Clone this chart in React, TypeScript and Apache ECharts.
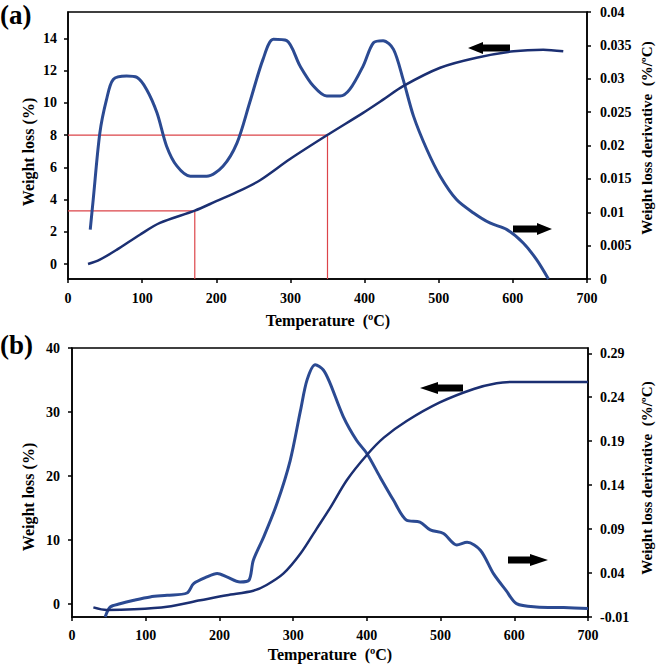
import { useEffect, useRef } from 'react';
import * as echarts from 'echarts';

// ---- panel (a) ----
const tempA_loss = [27, 43, 66, 97, 124, 171, 200, 232, 259, 299, 351, 398, 425, 452, 502, 551, 601, 641, 668];
const lossA = [0, 0.27, 0.89, 1.82, 2.55, 3.31, 3.9, 4.55, 5.2, 6.5, 8.04, 9.38, 10.2, 11.04, 12.18, 12.8, 13.2, 13.3, 13.2];

const tempA_deriv = [30, 34, 43, 52, 61, 79, 93, 106, 120, 133, 147, 165, 187, 209, 228, 245, 263, 277, 295, 313, 331, 349, 367, 380, 398, 412, 425, 439, 452, 466, 484, 502, 524, 547, 569, 592, 614, 632, 648];
const derivA = [0.0074, 0.0119, 0.0219, 0.0269, 0.0299, 0.0304, 0.0302, 0.0284, 0.0249, 0.0199, 0.0169, 0.0154, 0.0154, 0.0169, 0.0204, 0.0264, 0.0329, 0.0359, 0.0357, 0.0319, 0.0289, 0.0274, 0.0274, 0.0284, 0.0319, 0.0354, 0.0357, 0.0344, 0.0299, 0.0244, 0.0194, 0.0154, 0.0119, 0.0099, 0.0084, 0.0074, 0.0054, 0.0029, 0];

// red guide lines (temperature, weight loss)
const guideTemps = [171, 350];
const guideLoss = [3.3, 8];

const ticksA_left = [0, 2, 4, 6, 8, 10, 12, 14];

// ---- panel (b) ----
const tempB_loss = [29, 47, 84, 129, 174, 210, 246, 264, 287, 310, 332, 350, 373, 400, 423, 454, 499, 545, 576, 600, 700];
const lossB = [-0.5, -0.9, -0.8, -0.4, 0.6, 1.4, 2.1, 3.0, 4.8, 7.9, 11.8, 15.0, 19.4, 23.3, 26.0, 28.6, 31.5, 33.6, 34.5, 34.7, 34.7];

const tempB_deriv = [45, 52, 65, 84, 106, 129, 156, 165, 183, 197, 210, 228, 240, 246, 260, 278, 296, 310, 319, 330, 341, 350, 368, 386, 400, 418, 436, 454, 472, 486, 504, 522, 536, 554, 572, 589, 603, 630, 667, 700];
const derivB = [-0.01, 0.0014, 0.005, 0.009, 0.0128, 0.0147, 0.0173, 0.028, 0.0356, 0.0394, 0.0356, 0.0299, 0.0318, 0.0546, 0.081, 0.119, 0.168, 0.225, 0.26, 0.277, 0.271, 0.256, 0.218, 0.191, 0.176, 0.149, 0.123, 0.1, 0.098, 0.089, 0.085, 0.072, 0.075, 0.066, 0.039, 0.02, 0.0052, 0.0014, 0.0007, -0.0004];

const ticksB_left = [0, 10, 20, 30, 40];
const ticksB_right = [-0.01, 0.04, 0.09, 0.14, 0.19, 0.24, 0.29];

const FONT = '"Liberation Serif", "Times New Roman", serif';
const LOSS_COLOR = '#1b2f72';
const DERIV_COLOR = '#2b4a92';

const zip = (xs: number[], ys: number[]) => xs.map((x, i) => [x, ys[i]]);

function arrow(tipX: number, y: number, tailX: number, head: number, hh: number, sh: number) {
  const dir = tailX > tipX ? 1 : -1; // 1: points left
  const hx = tipX + dir * head;
  return {
    type: 'polygon',
    shape: {
      points: [
        [tipX, y], [hx, y - hh], [hx, y - sh], [tailX, y - sh],
        [tailX, y + sh], [hx, y + sh], [hx, y + hh],
      ],
    },
    style: { fill: '#000' },
  };
}

function App() {
  const chartRef = useRef<HTMLDivElement>(null);

  useEffect(() => {
    if (!chartRef.current) return;
    const chart = echarts.init(chartRef.current, null, { renderer: 'svg' });

    const axisText = { color: '#000', fontFamily: FONT, fontWeight: 'bold' as const, fontSize: 14 };
    const line = { show: true, lineStyle: { color: '#000', width: 1.5 } };
    const tick = { show: true, inside: false, length: 4, lineStyle: { color: '#000', width: 1.5 } };

    const xAxis = (gridIndex: number, margin: number) => ({
      type: 'value', gridIndex, min: 0, max: 700, interval: 100,
      axisLine: { ...line, onZero: false },
      axisTick: tick,
      axisLabel: { ...axisText, margin },
      splitLine: { show: false },
    });

    const guideSeries = guideTemps.map((t, i) => ({
      type: 'line', xAxisIndex: 0, yAxisIndex: 0,
      data: [[0, guideLoss[i]], [t, guideLoss[i]], [t, -0.93]],
      showSymbol: false, silent: true,
      lineStyle: { color: '#dc4449', width: 1.2 },
      z: 1,
    }));

    const curve = (xAxisIndex: number, yAxisIndex: number, data: number[][], color: string, width: number, z: number) => ({
      type: 'line', xAxisIndex, yAxisIndex, data,
      smooth: 0.3, showSymbol: false,
      lineStyle: { color, width }, z,
    });

    const title = (text: string, x: number, y: number, rotated: boolean, size = 16) => ({
      type: 'text', x, y, rotation: rotated ? Math.PI / 2 : 0,
      style: { text, font: `bold ${size}px ${FONT}`, fill: '#000', align: 'center', verticalAlign: 'middle' },
    });

    const option = {
      animation: false,
      grid: [
        { left: 68, top: 12, width: 519, height: 267, show: true, borderColor: '#000', borderWidth: 1.5 },
        { left: 72, top: 348, width: 516, height: 269, show: true, borderColor: '#000', borderWidth: 1.5 },
      ],
      xAxis: [xAxis(0, 12), xAxis(1, 11)],
      yAxis: [
        {
          type: 'value', gridIndex: 0, position: 'left', min: -0.93, max: 15.64,
          axisLine: { ...line, onZero: false },
          axisTick: { ...tick, customValues: ticksA_left },
          axisLabel: { ...axisText, margin: 11, customValues: ticksA_left },
          splitLine: { show: false },
        },
        {
          type: 'value', gridIndex: 0, position: 'right', min: 0, max: 0.04, interval: 0.005,
          axisLine: { ...line, onZero: false },
          axisTick: tick,
          axisLabel: {
            ...axisText, margin: 13, align: 'left',
            formatter: (v: number) => String(parseFloat(v.toFixed(3))),
          },
          splitLine: { show: false },
        },
        {
          type: 'value', gridIndex: 1, position: 'left', min: -2, max: 40,
          axisLine: { ...line, onZero: false },
          axisTick: { ...tick, customValues: ticksB_left },
          axisLabel: { ...axisText, margin: 12, customValues: ticksB_left },
          splitLine: { show: false },
        },
        {
          type: 'value', gridIndex: 1, position: 'right', min: -0.01, max: 0.296,
          axisLine: { ...line, onZero: false },
          axisTick: { ...tick, customValues: ticksB_right },
          axisLabel: {
            ...axisText, margin: 12, align: 'left', customValues: ticksB_right,
            formatter: (v: number) => v.toFixed(2),
          },
          splitLine: { show: false },
        },
      ],
      series: [
        ...guideSeries,
        curve(0, 1, zip(tempA_deriv, derivA), DERIV_COLOR, 3, 2),
        curve(0, 0, zip(tempA_loss, lossA), LOSS_COLOR, 2.5, 3),
        curve(1, 3, zip(tempB_deriv, derivB), DERIV_COLOR, 3, 2),
        curve(1, 2, zip(tempB_loss, lossB), LOSS_COLOR, 2.5, 3),
      ],
      graphic: [
        { type: 'text', x: 0, y: 15, style: { text: '(a)', font: `bold 27px ${FONT}`, fill: '#000', verticalAlign: 'middle' } },
        { type: 'text', x: 0, y: 345, style: { text: '(b)', font: `bold 27px ${FONT}`, fill: '#000', verticalAlign: 'middle' } },
        title('Temperature  (ºC)', 328, 320, false),
        title('Temperature  (ºC)', 330, 654, false),
        title('Weight loss (%)', 28, 152, true),
        title('Weight loss (%)', 28, 497, true),
        title('Weight loss derivative  (%/ºC)', 647, 138, true, 15),
        title('Weight loss derivative  (%/ºC)', 647, 478, true, 15),
        arrow(468, 48, 510, 15, 6, 3.5),
        arrow(552, 229, 513, 15, 6, 3.5),
        arrow(420, 388, 463, 18, 6, 3.5),
        arrow(548, 560, 508, 18, 6, 3.5),
      ],
    };

    chart.setOption(option as any);
    return () => {
      chart.dispose();
    };
  }, []);

  return (
    <div
      ref={chartRef}
      style={{ position: 'absolute', left: 0, top: 0, width: 656, height: 665, background: '#fff' }}
    />
  );
}

export default App;
